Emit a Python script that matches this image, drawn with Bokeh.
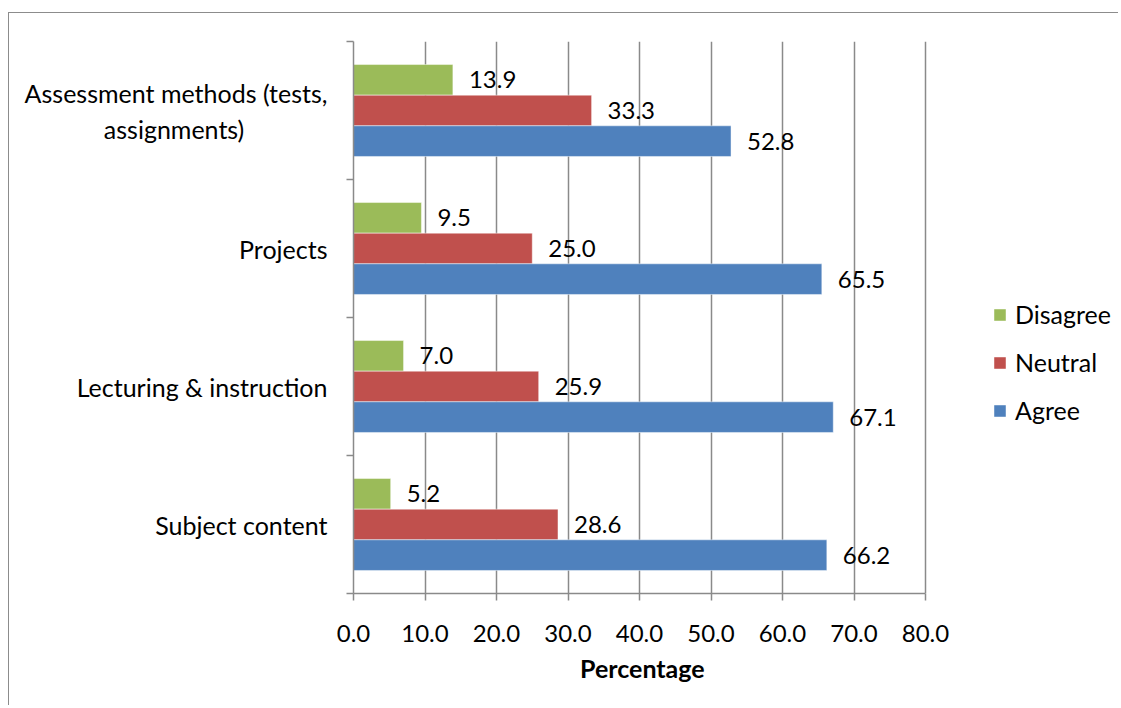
from bokeh.plotting import figure
from bokeh.models import (ColumnDataSource, FixedTicker, NumeralTickFormatter, Legend, LegendItem, LabelSet, Range1d)
from bokeh.core.properties import value
from bokeh.embed import file_html
from bokeh.resources import INLINE

categories = ["Subject content", "Lecturing & instruction", "Projects", "Assessment methods (tests,\nassignments)"]
disagree = [5.2, 7.0, 9.5, 13.9]
neutral = [28.6, 25.9, 25.0, 33.3]
agree = [66.2, 67.1, 65.5, 52.8]
series_names = ["Disagree", "Neutral", "Agree"]
series_colors = ["#9BBB59", "#C0504D", "#4F81BD"]
x_ticks = [0, 10, 20, 30, 40, 50, 60, 70, 80]
x_title = "Percentage"

FONT = "Lato"
FS = "25px"
NFS = "24px"
GRID = "#8a8a8a"

# frame extends right of the axis end (80) to leave room for the legend
WIDTH = 1110
HEIGHT = 693
FRAME_W = WIDTH - 344
X_END = 80 * FRAME_W / 572.0

p = figure(width=WIDTH, height=HEIGHT, output_backend="svg", toolbar_location=None,
           x_range=Range1d(0, X_END), y_range=Range1d(0, len(categories)),
           min_border_left=344, min_border_right=0, min_border_top=28, min_border_bottom=HEIGHT - 580)
p.outline_line_color = None
p.margin = (12, 0, 0, 8)
p.styles = {"border-left": "1px solid #8c8c8c", "border-top": "1px solid #8c8c8c"}

bar_h = 0.222
offsets = [bar_h, 0.0, -bar_h]
values = [disagree, neutral, agree]
renderers = []
for name, col, vals, off in zip(series_names, series_colors, values, offsets):
    ys = [i + 0.5 + off for i in range(len(categories))]
    src = ColumnDataSource(dict(y=ys, v=vals, t=["%.1f" % v for v in vals]))
    r = p.hbar(y="y", right="v", left=0, height=bar_h, source=src,
               fill_color=col, line_color="white", line_alpha=0.45, line_width=1)
    renderers.append(r)
    lbl = LabelSet(x="v", y="y", text="t", source=src, x_offset=16, y_offset=0,
                   text_align="left", text_baseline="middle",
                   text_font=value(FONT), text_font_size=value(NFS), text_color="black")
    p.add_layout(lbl)

# x axis
xa = p.xaxis[0]
xa.bounds = (x_ticks[0], x_ticks[-1])
xa.ticker = FixedTicker(ticks=x_ticks)
xa.formatter = NumeralTickFormatter(format="0.0")
xa.major_tick_out = 7
xa.major_tick_in = 0
xa.minor_tick_out = 0
xa.minor_tick_in = 0
xa.axis_line_color = GRID
xa.axis_line_width = 1.5
xa.major_tick_line_color = GRID
xa.major_tick_line_width = 1.5
xa.major_label_text_font = FONT
xa.major_label_text_font_size = NFS
xa.major_label_text_color = "black"
xa.major_label_standoff = 24
# trailing no-break spaces keep the title centred under the 0-80 axis span
xa.axis_label = x_title + "\u00a0" * 31
xa.axis_label_text_font = FONT
xa.axis_label_text_font_size = FS
xa.axis_label_text_font_style = "bold"
xa.axis_label_text_color = "black"
xa.axis_label_standoff = 8

# y axis
ya = p.yaxis[0]
centers = [i + 0.5 for i in range(len(categories))]
shown = []
for lab in categories:
    lines = lab.split("\n")
    if len(lines) == 2:
        lab = lines[0] + "\n" + lines[1] + "\u00a0" * 13
    shown.append(lab)
ya.ticker = FixedTicker(ticks=centers, minor_ticks=list(range(len(categories) + 1)))
ya.major_label_overrides = {c: lab for c, lab in zip(centers, shown)}
ya.major_tick_out = 0
ya.major_tick_in = 0
ya.minor_tick_out = 7
ya.minor_tick_in = 0
ya.minor_tick_line_color = GRID
ya.minor_tick_line_width = 1.5
ya.axis_line_color = GRID
ya.axis_line_width = 1.5
ya.major_label_text_font = FONT
ya.major_label_text_font_size = FS
ya.major_label_text_color = "black"
ya.major_label_standoff = 19

p.xgrid.ticker = FixedTicker(ticks=x_ticks)
p.xgrid.grid_line_color = GRID
p.xgrid.grid_line_width = 1.5
p.ygrid.grid_line_color = None

legend = Legend(items=[LegendItem(label=n, renderers=[r]) for n, r in zip(series_names, renderers)],
                location=(639, 168), orientation="vertical")
legend.border_line_color = None
legend.background_fill_color = None
legend.padding = 0
legend.margin = 0
legend.glyph_width = 15
legend.glyph_height = 15
legend.label_height = 20
legend.spacing = 18
legend.label_standoff = 8
legend.label_text_font = FONT
legend.label_text_font_size = FS
legend.label_text_color = "black"
p.add_layout(legend, "center")

open("out.html", "w").write(file_html(p, INLINE))
